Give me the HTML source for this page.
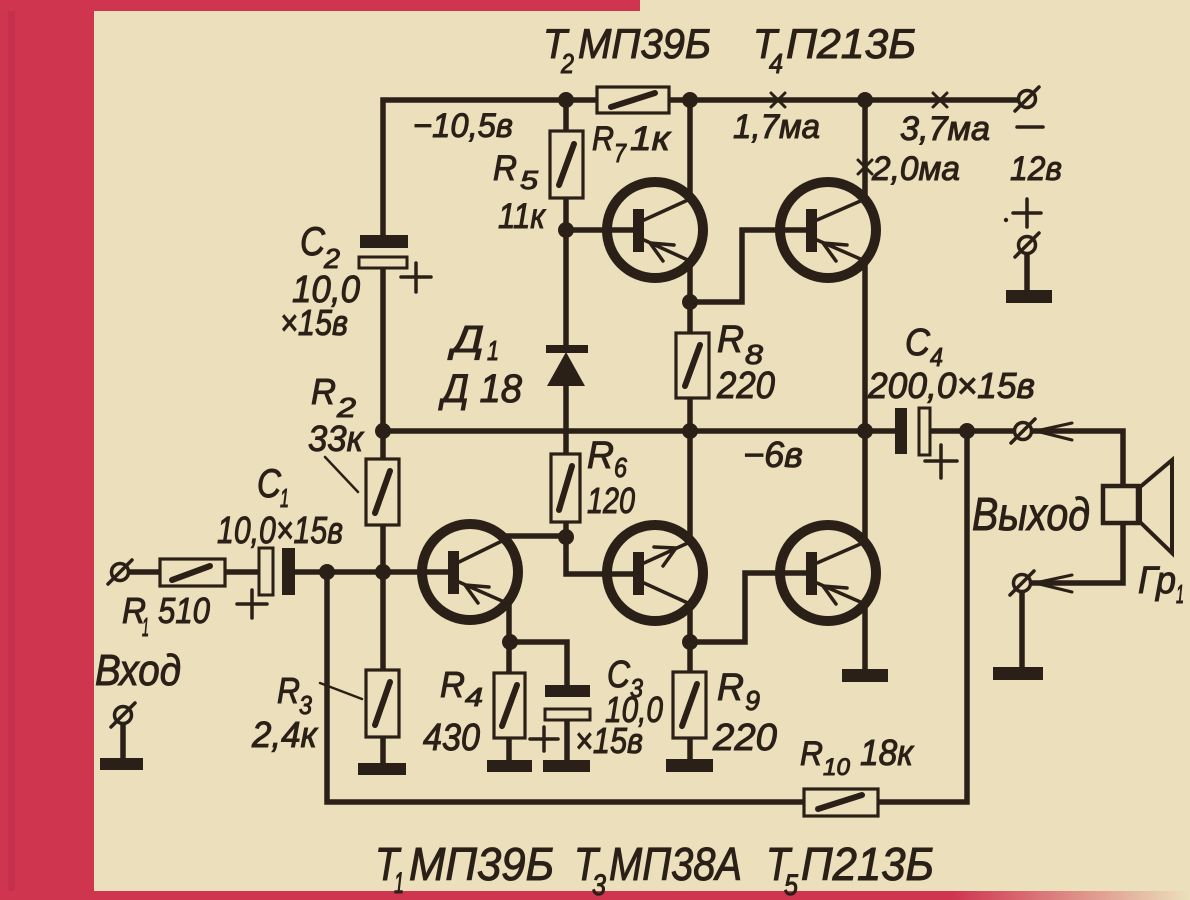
<!DOCTYPE html>
<html><head><meta charset="utf-8"><style>
html,body{margin:0;padding:0;background:#ebe0bb;}
svg{display:block}
.w{stroke:#2a2018;stroke-width:5.5;fill:none;stroke-linecap:square;stroke-linejoin:miter}
.r{stroke:#2a2018;stroke-width:3.2;fill:#ebe0bb}
.s{stroke:#2a2018;stroke-width:6;stroke-linecap:round}
.l{stroke:#2a2018;stroke-width:3.5;stroke-linecap:round;fill:none}
.k{fill:#2a2018}
.ring{fill:none;stroke:#2a2018;stroke-width:10}
text{font-family:"Liberation Sans",sans-serif;font-style:italic;fill:#2a2018;stroke:#2a2018;stroke-width:1}
</style></head><body>
<svg width="1190" height="900" viewBox="0 0 1190 900" xmlns="http://www.w3.org/2000/svg">
<defs>
<linearGradient id="bf" x1="0" x2="1" y1="0" y2="0">
<stop offset="0" stop-color="#d03550"/><stop offset="0.8" stop-color="#d03550"/><stop offset="1" stop-color="#d03550" stop-opacity="0"/>
</linearGradient>
</defs>
<rect width="1190" height="900" fill="#ebe0bb"/>
<rect x="0" y="0" width="94" height="900" fill="#d03550"/>
<rect x="8" y="0" width="7" height="900" fill="#b92b46" opacity="0.5"/>
<rect x="0" y="0" width="640" height="11" fill="#d03550"/>
<rect x="0" y="891" width="1190" height="9" fill="url(#bf)"/>

<!-- wires -->
<path class="w" d="
M383,100 H1018
M383,100 V241
M383,268 V769
M383,431 H895
M930,431 H1014
M967,431 V802 H878
M804,802 H327 V572
M128,572 H160
M225,572 H259
M295,572 H448
M566,100 V346
M566,386 V574 H633
M505,536 H566
M566,230 H633
M690,100 V199
M690,261 V431
M690,302 H742 V230 H806
M690,431 V542
M690,604 V767
M690,642 H745 V573 H806
M865,100 V199
M865,261 V431
M865,431 V542
M865,604 V676
M509,603 V766
M510,642 H567 V690
M567,720 V768
M1027,254 V292
M1032,431 H1123 V486
M1123,523 V583 H1031
M1022,592 V670
M123,724 V760
"/>

<!-- grounds -->
<rect class="k" x="358" y="763" width="48" height="12"/>
<rect class="k" x="487" y="760" width="45" height="12"/>
<rect class="k" x="543" y="760" width="47" height="12"/>
<rect class="k" x="666" y="759" width="47" height="13"/>
<rect class="k" x="842" y="669" width="46" height="13"/>
<rect class="k" x="1006" y="290" width="46" height="13"/>
<rect class="k" x="993" y="667" width="50" height="13"/>
<rect class="k" x="100" y="758" width="43" height="12"/>

<!-- resistors -->
<rect class="r" x="597" y="87" width="72" height="26"/><line class="s" x1="611" y1="107" x2="655" y2="93"/>
<rect class="r" x="550" y="131" width="33" height="67"/><line class="s" x1="559" y1="185" x2="574" y2="144"/>
<rect class="r" x="676" y="333" width="33" height="65"/><line class="s" x1="685" y1="386" x2="700" y2="345"/>
<rect class="r" x="551" y="454" width="29" height="68"/><line class="s" x1="559" y1="510" x2="572" y2="466"/>
<rect class="r" x="366" y="459" width="33" height="66"/><line class="s" x1="375" y1="513" x2="390" y2="471"/>
<rect class="r" x="366" y="670" width="33" height="67"/><line class="s" x1="375" y1="725" x2="390" y2="682"/>
<rect class="r" x="494" y="673" width="31" height="65"/><line class="s" x1="502" y1="726" x2="517" y2="685"/>
<rect class="r" x="673" y="672" width="33" height="66"/><line class="s" x1="682" y1="726" x2="697" y2="684"/>
<rect class="r" x="160" y="559" width="65" height="27"/><line class="s" x1="172" y1="580" x2="210" y2="566"/>
<rect class="r" x="804" y="789" width="74" height="27"/><line class="s" x1="818" y1="809" x2="862" y2="795"/>

<!-- capacitors -->
<rect class="k" x="360" y="235" width="48" height="13"/>
<rect class="r" x="359" y="257" width="48" height="11" style="stroke-width:3"/>
<rect class="r" x="259" y="548" width="14" height="47" style="stroke-width:3"/>
<rect class="k" x="282" y="548" width="13" height="47"/>
<rect class="k" x="545" y="685" width="45" height="12"/>
<rect class="r" x="545" y="709" width="45" height="11" style="stroke-width:3"/>
<rect class="k" x="895" y="408" width="12" height="46"/>
<rect class="r" x="919" y="408" width="11" height="47" style="stroke-width:3"/>

<!-- plus signs -->
<path class="l" d="M401,277 H431 M416,263 V292 M237,604 H267 M252,590 V618 M530,739 H558 M544,727 V751 M925,461 H957 M941,445 V478 M1013,213 H1041 M1027,199 V227 M1017,127 H1043"/>
<circle class="k" cx="1006" cy="220" r="2.2"/>

<!-- diode -->
<rect class="k" x="546" y="345" width="42" height="8"/>
<polygon class="k" points="566,352 547,386 585,386"/>

<!-- transistors -->
<circle class="ring" cx="470" cy="572" r="48"/>
<rect class="k" x="448" y="551" width="11" height="43"/>
<path class="l" d="M459,562 L504,540 M459,582 L509,604 M465,585 L489,587 M465,585 L478,603"/>
<circle class="ring" cx="655" cy="230" r="48"/>
<rect class="k" x="633" y="209" width="11" height="43"/>
<path class="l" d="M644,220 L690,199 M644,240 L690,261 M650,243 L674,245 M650,243 L663,261"/>
<circle class="ring" cx="655" cy="573" r="48"/>
<rect class="k" x="633" y="552" width="11" height="43"/>
<path class="l" d="M644,563 L690,542 M644,583 L690,604 M676,548 L654,547 M676,548 L663,566"/>
<circle class="ring" cx="828" cy="230" r="48"/>
<rect class="k" x="806" y="209" width="11" height="43"/>
<path class="l" d="M817,220 L865,199 M817,240 L865,261 M823,243 L847,245 M823,243 L836,261"/>
<circle class="ring" cx="828" cy="573" r="48"/>
<rect class="k" x="806" y="552" width="11" height="43"/>
<path class="l" d="M817,563 L865,542 M817,583 L865,604 M823,586 L847,588 M823,586 L836,604"/>

<!-- junction dots -->
<g class="k">
<circle cx="566" cy="100" r="8"/><circle cx="690" cy="100" r="8"/><circle cx="865" cy="100" r="8"/>
<circle cx="566" cy="230" r="8"/><circle cx="690" cy="302" r="8"/>
<circle cx="383" cy="431" r="8"/><circle cx="690" cy="431" r="8"/><circle cx="865" cy="431" r="8"/><circle cx="967" cy="431" r="8"/>
<circle cx="566" cy="537" r="8"/><circle cx="510" cy="642" r="8"/><circle cx="690" cy="642" r="8"/>
<circle cx="327" cy="572" r="8"/><circle cx="383" cy="572" r="8"/>
</g>

<!-- current crosses -->
<path class="l" style="stroke-width:3" d="M771,93 L785,107 M785,93 L771,107 M933,93 L947,107 M947,93 L933,107 M858,160 L872,174 M872,160 L858,174"/>

<!-- terminals -->
<g class="l" style="stroke-width:3.5">
<circle cx="1027" cy="99" r="8.5" fill="#ebe0bb"/><line x1="1015" y1="111" x2="1039" y2="87"/>
<circle cx="1027" cy="245" r="8.5" fill="#ebe0bb"/><line x1="1015" y1="257" x2="1039" y2="233"/>
<circle cx="120" cy="572" r="8.5" fill="#ebe0bb"/><line x1="108" y1="584" x2="132" y2="560"/>
<circle cx="123" cy="715" r="8.5" fill="#ebe0bb"/><line x1="111" y1="727" x2="135" y2="703"/>
<circle cx="1023" cy="431" r="8.5" fill="#ebe0bb"/><line x1="1011" y1="443" x2="1035" y2="419"/>
<circle cx="1022" cy="583" r="8.5" fill="#ebe0bb"/><line x1="1010" y1="595" x2="1034" y2="571"/>
</g>
<path class="l" style="stroke-width:3" d="M1072,423 L1036,431 L1072,440 M1072,575 L1035,583 L1072,592"/>
<rect x="1103" y="486" width="35" height="37" fill="#ebe0bb" stroke="#2a2018" stroke-width="4.5"/>
<polygon points="1140,487 1172,460 1172,553 1140,522" fill="none" stroke="#2a2018" stroke-width="4"/>

<path class="l" style="stroke-width:2.5" d="M325,457 L358,492 M320,683 L362,699"/>

<!-- texts -->
<g>
<text x="543" y="58" font-size="42" textLength="24" lengthAdjust="spacingAndGlyphs">T</text>
<text x="561" y="73" font-size="28" textLength="13" lengthAdjust="spacingAndGlyphs">2</text>
<text x="578" y="58" font-size="42" textLength="133" lengthAdjust="spacingAndGlyphs">МП39Б</text>
<text x="753" y="58" font-size="42" textLength="24" lengthAdjust="spacingAndGlyphs">T</text>
<text x="769" y="73" font-size="28" textLength="14" lengthAdjust="spacingAndGlyphs">4</text>
<text x="786" y="58" font-size="42" textLength="130" lengthAdjust="spacingAndGlyphs">П213Б</text>

<text x="375" y="880" font-size="46" textLength="24" lengthAdjust="spacingAndGlyphs">T</text>
<text x="394" y="893" font-size="30" textLength="10" lengthAdjust="spacingAndGlyphs">1</text>
<text x="409" y="880" font-size="46" textLength="145" lengthAdjust="spacingAndGlyphs">МП39Б</text>
<text x="574" y="880" font-size="46" textLength="24" lengthAdjust="spacingAndGlyphs">T</text>
<text x="592" y="895" font-size="30" textLength="14" lengthAdjust="spacingAndGlyphs">3</text>
<text x="609" y="880" font-size="46" textLength="133" lengthAdjust="spacingAndGlyphs">МП38А</text>
<text x="766" y="880" font-size="46" textLength="24" lengthAdjust="spacingAndGlyphs">T</text>
<text x="784" y="895" font-size="30" textLength="14" lengthAdjust="spacingAndGlyphs">5</text>
<text x="801" y="880" font-size="46" textLength="133" lengthAdjust="spacingAndGlyphs">П213Б</text>

<text x="413" y="137" font-size="34" textLength="100" lengthAdjust="spacingAndGlyphs">−10,5в</text>
<text x="592" y="150" font-size="34" textLength="22" lengthAdjust="spacingAndGlyphs">R</text>
<text x="614" y="162" font-size="26" textLength="12" lengthAdjust="spacingAndGlyphs">7</text>
<text x="630" y="150" font-size="34" textLength="40" lengthAdjust="spacingAndGlyphs">1к</text>
<text x="493" y="180" font-size="35" textLength="24" lengthAdjust="spacingAndGlyphs">R</text>
<text x="520" y="189" font-size="26" textLength="18" lengthAdjust="spacingAndGlyphs">5</text>
<text x="498" y="228" font-size="35" textLength="47" lengthAdjust="spacingAndGlyphs">11к</text>
<text x="733" y="138" font-size="34" textLength="87" lengthAdjust="spacingAndGlyphs">1,7ма</text>
<text x="900" y="140" font-size="34" textLength="90" lengthAdjust="spacingAndGlyphs">3,7ма</text>
<text x="872" y="180" font-size="34" textLength="88" lengthAdjust="spacingAndGlyphs">2,0ма</text>
<text x="1010" y="180" font-size="34" textLength="52" lengthAdjust="spacingAndGlyphs">12в</text>

<text x="300" y="255" font-size="40" textLength="25" lengthAdjust="spacingAndGlyphs">C</text>
<text x="324" y="268" font-size="28" textLength="16" lengthAdjust="spacingAndGlyphs">2</text>
<text x="292" y="302" font-size="38" textLength="68" lengthAdjust="spacingAndGlyphs">10,0</text>
<text x="280" y="335" font-size="36" textLength="68" lengthAdjust="spacingAndGlyphs">×15в</text>
<text x="452" y="352" font-size="38" textLength="32" lengthAdjust="spacingAndGlyphs">Д</text>
<text x="487" y="360" font-size="28" textLength="12" lengthAdjust="spacingAndGlyphs">1</text>
<text x="442" y="402" font-size="40" textLength="80" lengthAdjust="spacingAndGlyphs">Д 18</text>
<text x="311" y="404" font-size="36" textLength="25" lengthAdjust="spacingAndGlyphs">R</text>
<text x="337" y="417" font-size="28" textLength="19" lengthAdjust="spacingAndGlyphs">2</text>
<text x="308" y="451" font-size="36" textLength="55" lengthAdjust="spacingAndGlyphs">33к</text>
<text x="257" y="497" font-size="40" textLength="24" lengthAdjust="spacingAndGlyphs">C</text>
<text x="280" y="507" font-size="26" textLength="9" lengthAdjust="spacingAndGlyphs">1</text>
<text x="217" y="543" font-size="38" textLength="126" lengthAdjust="spacingAndGlyphs">10,0×15в</text>
<text x="122" y="623" font-size="36" textLength="24" lengthAdjust="spacingAndGlyphs">R</text>
<text x="142" y="636" font-size="26" textLength="7" lengthAdjust="spacingAndGlyphs">1</text>
<text x="158" y="623" font-size="36" textLength="52" lengthAdjust="spacingAndGlyphs">510</text>
<text x="95" y="685" font-size="44" textLength="86" lengthAdjust="spacingAndGlyphs">Вход</text>
<text x="277" y="703" font-size="36" textLength="23" lengthAdjust="spacingAndGlyphs">R</text>
<text x="299" y="714" font-size="26" textLength="13" lengthAdjust="spacingAndGlyphs">3</text>
<text x="252" y="747" font-size="36" textLength="65" lengthAdjust="spacingAndGlyphs">2,4к</text>
<text x="440" y="697" font-size="36" textLength="25" lengthAdjust="spacingAndGlyphs">R</text>
<text x="465" y="706" font-size="26" textLength="18" lengthAdjust="spacingAndGlyphs">4</text>
<text x="423" y="750" font-size="38" textLength="57" lengthAdjust="spacingAndGlyphs">430</text>
<text x="717" y="352" font-size="38" textLength="27" lengthAdjust="spacingAndGlyphs">R</text>
<text x="745" y="364" font-size="28" textLength="18" lengthAdjust="spacingAndGlyphs">8</text>
<text x="717" y="398" font-size="38" textLength="58" lengthAdjust="spacingAndGlyphs">220</text>
<text x="587" y="468" font-size="38" textLength="27" lengthAdjust="spacingAndGlyphs">R</text>
<text x="614" y="477" font-size="28" textLength="13" lengthAdjust="spacingAndGlyphs">6</text>
<text x="587" y="513" font-size="36" textLength="48" lengthAdjust="spacingAndGlyphs">120</text>
<text x="743" y="467" font-size="36" textLength="60" lengthAdjust="spacingAndGlyphs">−6в</text>
<text x="607" y="687" font-size="38" textLength="23" lengthAdjust="spacingAndGlyphs">C</text>
<text x="630" y="697" font-size="26" textLength="13" lengthAdjust="spacingAndGlyphs">3</text>
<text x="605" y="722" font-size="36" textLength="58" lengthAdjust="spacingAndGlyphs">10,0</text>
<text x="575" y="753" font-size="36" textLength="68" lengthAdjust="spacingAndGlyphs">×15в</text>
<text x="717" y="700" font-size="38" textLength="27" lengthAdjust="spacingAndGlyphs">R</text>
<text x="745" y="710" font-size="28" textLength="15" lengthAdjust="spacingAndGlyphs">9</text>
<text x="713" y="750" font-size="38" textLength="64" lengthAdjust="spacingAndGlyphs">220</text>
<text x="800" y="765" font-size="34" textLength="23" lengthAdjust="spacingAndGlyphs">R</text>
<text x="823" y="775" font-size="24" textLength="27" lengthAdjust="spacingAndGlyphs">10</text>
<text x="860" y="765" font-size="36" textLength="53" lengthAdjust="spacingAndGlyphs">18к</text>
<text x="905" y="355" font-size="38" textLength="25" lengthAdjust="spacingAndGlyphs">C</text>
<text x="930" y="366" font-size="26" textLength="13" lengthAdjust="spacingAndGlyphs">4</text>
<text x="868" y="398" font-size="36" textLength="167" lengthAdjust="spacingAndGlyphs">200,0×15в</text>
<text x="972" y="530" font-size="46" textLength="118" lengthAdjust="spacingAndGlyphs">Выход</text>
<text x="1138" y="593" font-size="38" textLength="38" lengthAdjust="spacingAndGlyphs">Гр</text>
<text x="1176" y="603" font-size="26" textLength="8" lengthAdjust="spacingAndGlyphs">1</text>
</g>
</svg>
</body></html>
